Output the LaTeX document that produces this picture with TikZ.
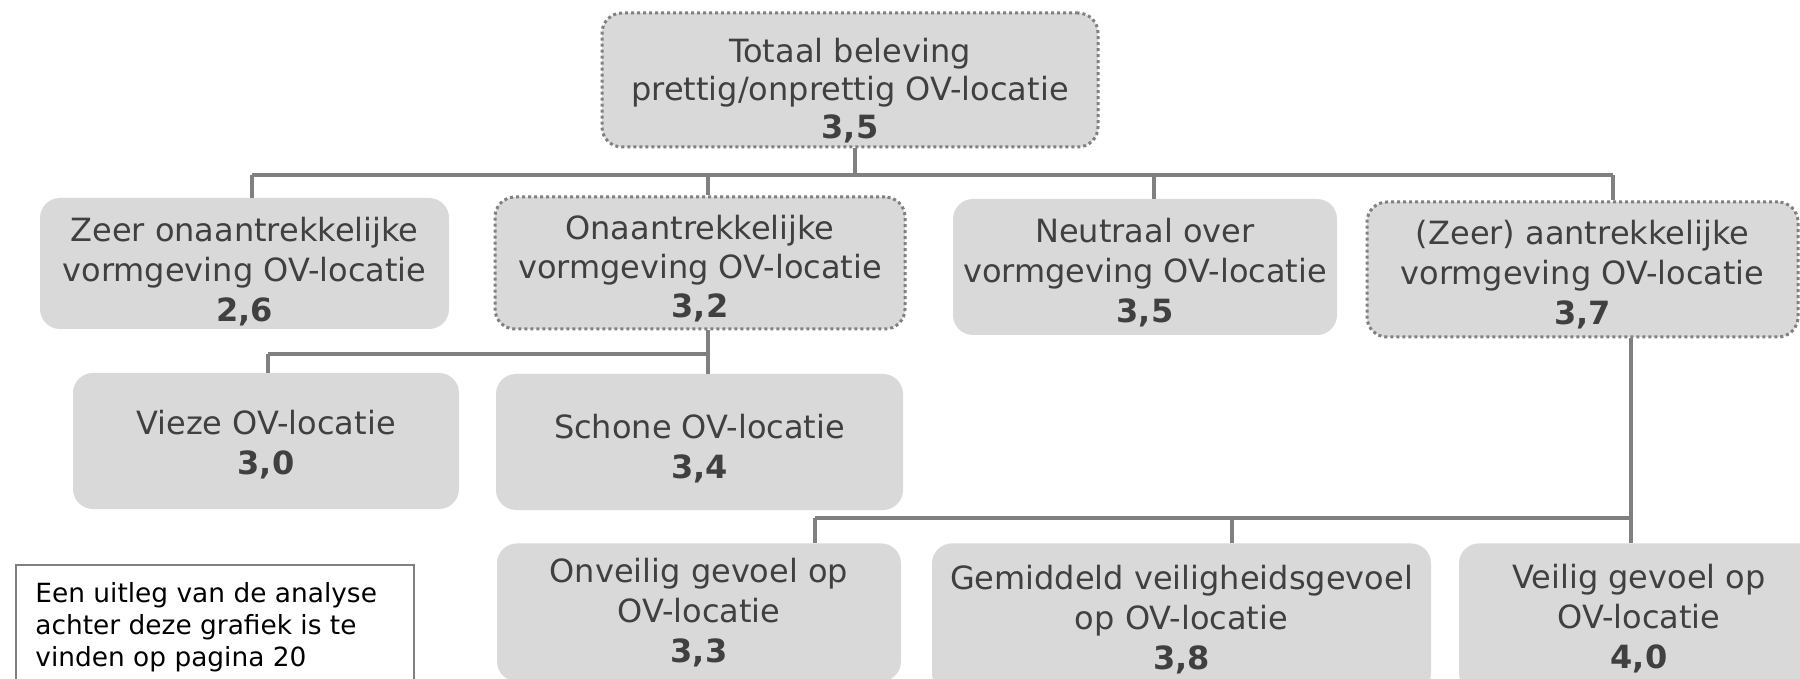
\documentclass[tikz,border=0pt]{standalone}
\usepackage{fontspec}
\setmainfont{DejaVu Sans}
\usetikzlibrary{calc}
\definecolor{boxfill}{HTML}{D9D9D9}
\definecolor{txt}{HTML}{404040}
\definecolor{ln}{HTML}{808080}
\begin{document}
\begin{tikzpicture}[x=0.5pt,y=-0.5pt,
  box/.style={fill=boxfill, rounded corners=10pt, inner sep=0pt},
  dotbox/.style={box, draw=ln, dash pattern=on 1.5pt off 1.5pt, line width=1.5pt},
  lbl/.style={text=txt, align=center, inner sep=0pt, font=\fontsize{16}{20}\selectfont},
  conn/.style={draw=ln, line width=2.4pt},
  note/.style={draw=ln, line width=0.8pt, fill=white, rectangle},
  notetext/.style={text=black, align=left, inner sep=0pt, font=\fontsize{13.2}{16}\selectfont}
  ]
\clip (0,0) rectangle (1800,679);
% level 0
\node[dotbox, minimum width=248pt, minimum height=67pt] (top) at (850,80) {};
\node[lbl, font=\fontsize{16}{19}\selectfont] (topt) at ($(top.center)+(0,11)$)
  {Totaal beleving\\prettig/onprettig OV-locatie\\\textbf{3,5}};
% level 1
\node[box, minimum width=204.5pt, minimum height=65.5pt] (z1) at (244.5,263.5) {};
\node[lbl] (z1t) at ($(z1.center)+(0,8)$)
  {Zeer onaantrekkelijke\\vormgeving OV-locatie\\\textbf{2,6}};
\node[dotbox, minimum width=205pt, minimum height=66pt] (z2) at (700,263) {};
\node[lbl, font=\fontsize{16}{19.5}\selectfont] (z2t) at ($(z2.center)+(0,6)$)
  {Onaantrekkelijke\\vormgeving OV-locatie\\\textbf{3,2}};
\node[box, minimum width=192pt, minimum height=68pt] (z3) at (1145,267) {};
\node[lbl] (z3t) at ($(z3.center)+(0,6)$)
  {Neutraal over\\vormgeving OV-locatie\\\textbf{3,5}};
\node[dotbox, minimum width=215.5pt, minimum height=67.5pt] (z4) at (1582.5,269.5) {};
\node[lbl] (z4t) at ($(z4.center)+(0,5)$)
  {(Zeer) aantrekkelijke\\vormgeving OV-locatie\\\textbf{3,7}};
% level 2
\node[box, minimum width=193pt, minimum height=68pt] (v1) at (266,441) {};
\node[lbl] (v1t) at ($(v1.center)+(0,3.5)$)
  {Vieze OV-locatie\\\textbf{3,0}};
\node[box, minimum width=203.5pt, minimum height=68pt] (v2) at (699.5,442) {};
\node[lbl] (v2t) at ($(v2.center)+(0,6.5)$)
  {Schone OV-locatie\\\textbf{3,4}};
% level 3
\node[box, anchor=north, minimum width=202pt, minimum height=69pt] (s1) at (699,543) {};
\node[lbl] (s1t) at (s1.center)
  {Onveilig gevoel op\\OV-locatie\\\textbf{3,3}};
\node[box, anchor=north, minimum width=249.5pt, minimum height=75pt] (s2) at (1181.5,543) {};
\node[lbl] (s2t) at ($(s2.center)+(0,1.5)$)
  {Gemiddeld veiligheidsgevoel\\op OV-locatie\\\textbf{3,8}};
\node[box, anchor=north, minimum width=180pt, minimum height=75pt] (s3) at (1639,543) {};
\node[lbl] (s3t) at (s3.center)
  {Veilig gevoel op\\OV-locatie\\\textbf{4,0}};
% note
\node[note, anchor=north west, minimum width=199pt, minimum height=70pt] (notebox) at (15,564) {};
\node[notetext, anchor=north west] (notetxt) at (35,582)
  {Een uitleg van de analyse\\achter deze grafiek is te\\vinden op pagina 20};
% bus coordinates
\coordinate (b0) at (855,175);
\coordinate (b1) at (252,175);
\coordinate (b2) at (708,175);
\coordinate (b3) at (1154,175);
\coordinate (b4) at (1613,175);
\coordinate (c1) at (268,354);
\coordinate (c2) at (708,354);
\coordinate (d1) at (815,518);
\coordinate (d2) at (1232,518);
\coordinate (d3) at (1631,518);
% connectors
\draw[conn] (top.south -| b0) -- (b0);
\draw[conn] (b1) -- (b4);
\draw[conn] (b1) -- (b1 |- z1.north);
\draw[conn] (b2) -- (b2 |- z2.north);
\draw[conn] (b3) -- (b3 |- z3.north);
\draw[conn] (b4) -- (b4 |- z4.north);
\draw[conn] (z2.south -| c2) -- (c2 |- v2.north);
\draw[conn] (c1) -- (c2);
\draw[conn] (c1) -- (c1 |- v1.north);
\draw[conn] (z4.south -| d3) -- (d3 |- s3.north);
\draw[conn] (d1) -- (d3);
\draw[conn] (d1) -- (d1 |- s1.north);
\draw[conn] (d2) -- (d2 |- s2.north);
\end{tikzpicture}
\end{document}
